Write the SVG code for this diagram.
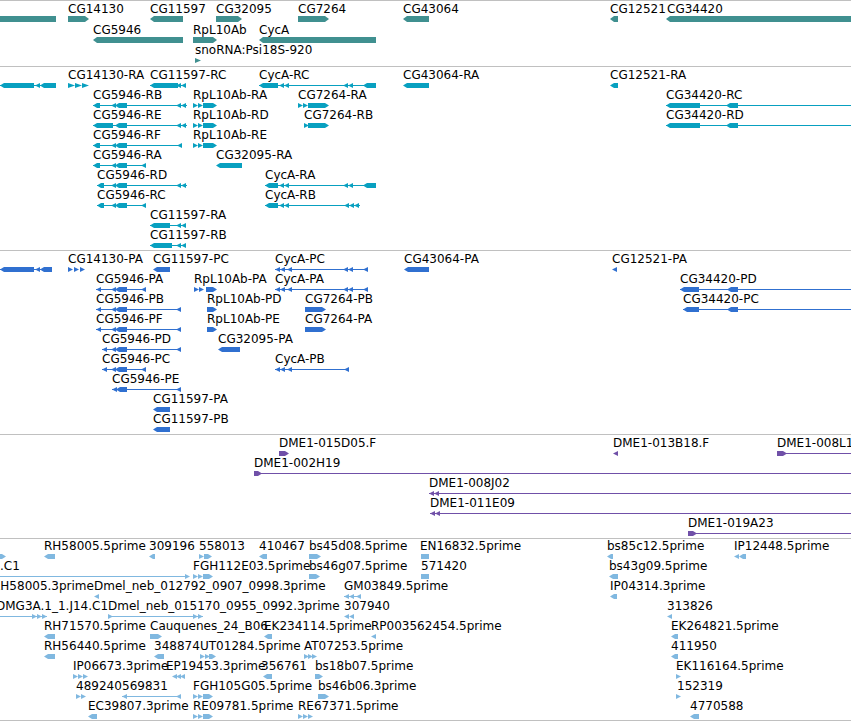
<svg xmlns="http://www.w3.org/2000/svg" xmlns:xlink="http://www.w3.org/1999/xlink" width="851" height="722" viewBox="0 0 851 722">
<style>
text{font-family:"DejaVu Sans",sans-serif;font-size:12px;fill:#000}
path,use{fill:currentColor}
.ln{fill:none;stroke:currentColor;stroke-width:1}
.sep{stroke:#c0c0c0;stroke-width:1;fill:none}
.g{color:#409090}
.t{color:#08a0c0}
.p{color:#3070d0}
.b{color:#7050a8}
.e{color:#80b8e0}
</style>
<defs>
<path id="L" d="M0,6.5L5,4V9Z"/>
<path id="R" d="M0,4L5,6.5L0,9Z"/>
</defs>
<rect width="851" height="722" fill="#fff"/>
<g id="separators">
<path class="sep" d="M0,0.5H851M0,66.5H851M0,250.5H851M0,434.5H851M0,538.5H851M0,720.5H851"/>
</g>
<g id="connectors"></g>

<g id="genes" class="g">
<g id="g_left" transform="translate(0,13)"><path d="M0,3H56V9H0Z"/></g>
<g id="g_CG14130" transform="translate(0,13)"><text x="68" y="0">CG14130</text><path d="M68,3H85L89,6L85,9H68Z"/></g>
<g id="g_CG11597" transform="translate(0,13)"><text x="150" y="0">CG11597</text><path d="M150,6L154,3H183V9H154Z"/></g>
<g id="g_CG32095" transform="translate(0,13)"><text x="216" y="0">CG32095</text><path d="M216,3H238L242,6L238,9H216Z"/></g>
<g id="g_CG7264" transform="translate(0,13)"><text x="298" y="0">CG7264</text><path d="M298,3H325L329,6L325,9H298Z"/></g>
<g id="g_CG43064" transform="translate(0,13)"><text x="403" y="0">CG43064</text><path d="M403,6L407,3H429V9H407Z"/></g>
<g id="g_CG12521" transform="translate(0,13)"><text x="610" y="0">CG12521</text><path d="M610,6L614,3H618V9H614Z"/></g>
<g id="g_CG34420" transform="translate(0,13)"><text x="667" y="0">CG34420</text><path d="M666,6L670,3H852V9H670Z"/></g>
<g id="g_CG5946" transform="translate(0,34)"><text x="93" y="0">CG5946</text><path d="M93,6L97,3H183V9H97Z"/></g>
<g id="g_RpL10Ab" transform="translate(0,34)"><text x="193" y="0">RpL10Ab</text><path d="M193,3H213L217,6L213,9H193Z"/></g>
<g id="g_CycA" transform="translate(0,34)"><text x="259" y="0">CycA</text><path d="M259,6L263,3H376V9H263Z"/></g>
<g id="g_snoRNA" transform="translate(0,54)"><text x="195" y="0">snoRNA:Psi18S-920</text><path d="M195,4L201,6.5L195,9Z"/></g>
</g>

<g id="transcripts" class="t">
<g id="t_left" transform="translate(0,79)"><path class="ln" d="M0,6.5H56"/><path d="M0,6.5L4,4H34V9H4Z"/><use href="#L" x="35"/><path d="M40,6.5L44,4H56V9H44Z"/></g>
<g id="t_CG14130-RA" transform="translate(0,79)"><text x="68" y="0">CG14130-RA</text><path d="M68,4L75,6.5L68,9ZM75,4L82,6.5L75,9ZM82,4L89,6.5L82,9Z"/></g>
<g id="t_CG11597-RC" transform="translate(0,79)"><text x="150" y="0">CG11597-RC</text><path class="ln" d="M150,6.5H186"/><path d="M150,6.5L154,4H178V9H154Z"/><use href="#L" x="176"/><use href="#L" x="181"/></g>
<g id="t_CycA-RC" transform="translate(0,79)"><text x="259" y="0">CycA-RC</text><path class="ln" d="M259,6.5H376"/><path d="M259,6.5L263,4H278V9H263Z"/><use href="#L" x="279"/><use href="#L" x="284"/><use href="#L" x="343"/><use href="#L" x="348"/><path d="M363,6.5L367,4H376V9H367Z"/></g>
<g id="t_CG43064-RA" transform="translate(0,79)"><text x="403" y="0">CG43064-RA</text><path d="M403,6.5L407,4H429V9H407Z"/></g>
<g id="t_CG12521-RA" transform="translate(0,79)"><text x="610" y="0">CG12521-RA</text><path d="M610,6.5L614,4H618V9H614Z"/></g>

<g id="t_CG5946-RB" transform="translate(0,99)"><text x="93" y="0">CG5946-RB</text><path class="ln" d="M93,6.5H187"/><path d="M93,6.5L97,4H100V9H97Z"/><use href="#L" x="111"/><path d="M115,6.5L119,4H127V9H119Z"/><use href="#L" x="176"/><use href="#L" x="181"/></g>
<g id="t_RpL10Ab-RA" transform="translate(0,99)"><text x="193" y="0">RpL10Ab-RA</text><use href="#R" x="193"/><use href="#R" x="198"/><path d="M203,4H213L217,6.5L213,9H203Z"/></g>
<g id="t_CG7264-RA" transform="translate(0,99)"><text x="298" y="0">CG7264-RA</text><use href="#R" x="298"/><use href="#R" x="303"/><path d="M308,4H325L329,6.5L325,9H308Z"/></g>
<g id="t_CG34420-RC" transform="translate(0,99)"><text x="666" y="0">CG34420-RC</text><path class="ln" d="M666,6.5H852"/><path d="M666,6.5L670,4H700V9H670Z"/><path d="M726,6.5L730,4H738V9H730Z"/></g>

<g id="t_CG5946-RE" transform="translate(0,119)"><text x="93" y="0">CG5946-RE</text><path class="ln" d="M93,6.5H187"/><path d="M93,6.5L97,4H113V9H97Z"/><path d="M115,6.5L119,4H127V9H119Z"/><use href="#L" x="176"/><use href="#L" x="181"/></g>
<g id="t_RpL10Ab-RD" transform="translate(0,119)"><text x="193" y="0">RpL10Ab-RD</text><use href="#R" x="193"/><use href="#R" x="198"/><path d="M203,4H213L217,6.5L213,9H203Z"/></g>
<g id="t_CG7264-RB" transform="translate(0,119)"><text x="304" y="0">CG7264-RB</text><use href="#R" x="304"/><path d="M308,4H325L329,6.5L325,9H308Z"/></g>
<g id="t_CG34420-RD" transform="translate(0,119)"><text x="666" y="0">CG34420-RD</text><path class="ln" d="M666,6.5H852"/><path d="M666,6.5L670,4H700V9H670Z"/><path d="M726,6.5L730,4H738V9H730Z"/></g>

<g id="t_CG5946-RF" transform="translate(0,139)"><text x="93" y="0">CG5946-RF</text><path class="ln" d="M93,6.5H182"/><path d="M93,6.5L97,4H100V9H97Z"/><use href="#L" x="111"/><path d="M115,6.5L119,4H127V9H119Z"/><use href="#L" x="177"/></g>
<g id="t_RpL10Ab-RE" transform="translate(0,139)"><text x="193" y="0">RpL10Ab-RE</text><use href="#R" x="193"/><use href="#R" x="198"/><path d="M203,4H213L217,6.5L213,9H203Z"/></g>

<g id="t_CG5946-RA" transform="translate(0,159)"><text x="93" y="0">CG5946-RA</text><path class="ln" d="M93,6.5H146"/><path d="M93,6.5L97,4H100V9H97Z"/><use href="#L" x="111"/><path d="M115,6.5L119,4H127V9H119Z"/><use href="#L" x="141"/></g>
<g id="t_CG32095-RA" transform="translate(0,159)"><text x="216" y="0">CG32095-RA</text><path d="M216,6.5L220,4H242V9H220Z"/></g>

<g id="t_CG5946-RD" transform="translate(0,179)"><text x="97" y="0">CG5946-RD</text><path class="ln" d="M97,6.5H187"/><path d="M97,6.5L101,4H104V9H101Z"/><use href="#L" x="111"/><path d="M115,6.5L119,4H127V9H119Z"/><use href="#L" x="176"/><use href="#L" x="181"/></g>
<g id="t_CycA-RA" transform="translate(0,179)"><text x="265" y="0">CycA-RA</text><path class="ln" d="M265,6.5H376"/><path d="M265,6.5L269,4H278V9H269Z"/><use href="#L" x="279"/><use href="#L" x="284"/><use href="#L" x="343"/><use href="#L" x="348"/><path d="M363,6.5L367,4H376V9H367Z"/></g>

<g id="t_CG5946-RC" transform="translate(0,199)"><text x="97" y="0">CG5946-RC</text><path class="ln" d="M97,6.5H146"/><path d="M97,6.5L101,4H104V9H101Z"/><use href="#L" x="111"/><path d="M115,6.5L119,4H127V9H119Z"/><use href="#L" x="141"/></g>
<g id="t_CycA-RB" transform="translate(0,199)"><text x="265" y="0">CycA-RB</text><path class="ln" d="M265,6.5H360"/><path d="M265,6.5L269,4H278V9H269Z"/><use href="#L" x="279"/><use href="#L" x="284"/><use href="#L" x="344"/><use href="#L" x="349"/><use href="#L" x="354"/></g>

<g id="t_CG11597-RA" transform="translate(0,219)"><text x="150" y="0">CG11597-RA</text><path class="ln" d="M150,6.5H186"/><path d="M150,6.5L154,4H170V9H154Z"/><use href="#L" x="176"/><use href="#L" x="181"/></g>
<g id="t_CG11597-RB" transform="translate(0,239)"><text x="150" y="0">CG11597-RB</text><path class="ln" d="M150,6.5H186"/><path d="M150,6.5L154,4H172V9H154Z"/><use href="#L" x="176"/><use href="#L" x="181"/></g>
</g>

<g id="proteins" class="p">
<g id="p_left" transform="translate(0,263)"><path class="ln" d="M0,6.5H52"/><path d="M0,6.5L4,4H34V9H4Z"/><use href="#L" x="35"/><path d="M40,6.5L44,4H52V9H44Z"/></g>
<g id="p_CG14130-PA" transform="translate(0,263)"><text x="68" y="0">CG14130-PA</text><use href="#R" x="68"/><use href="#R" x="74"/><use href="#R" x="80"/></g>
<g id="p_CG11597-PC" transform="translate(0,263)"><text x="153" y="0">CG11597-PC</text><path d="M153,6.5L157,4H170V9H157Z"/></g>
<g id="p_CycA-PC" transform="translate(0,263)"><text x="275" y="0">CycA-PC</text><path class="ln" d="M275,6.5H368"/><use href="#L" x="275"/><use href="#L" x="280"/><use href="#L" x="287"/><use href="#L" x="343"/><use href="#L" x="348"/><use href="#L" x="363"/></g>
<g id="p_CG43064-PA" transform="translate(0,263)"><text x="404" y="0">CG43064-PA</text><path d="M404,6.5L408,4H429V9H408Z"/></g>
<g id="p_CG12521-PA" transform="translate(0,263)"><text x="612" y="0">CG12521-PA</text><use href="#L" x="612"/></g>

<g id="p_CG5946-PA" transform="translate(0,283)"><text x="96" y="0">CG5946-PA</text><path class="ln" d="M96,6.5H146"/><use href="#L" x="96"/><use href="#L" x="111"/><path d="M115,6.5L119,4H127V9H119Z"/><use href="#L" x="141"/></g>
<g id="p_RpL10Ab-PA" transform="translate(0,283)"><text x="194" y="0">RpL10Ab-PA</text><use href="#R" x="194"/><use href="#R" x="199"/><path d="M206,4H213L217,6.5L213,9H206Z"/></g>
<g id="p_CycA-PA" transform="translate(0,283)"><text x="275" y="0">CycA-PA</text><path class="ln" d="M275,6.5H368"/><use href="#L" x="275"/><use href="#L" x="280"/><use href="#L" x="287"/><use href="#L" x="343"/><use href="#L" x="348"/><use href="#L" x="363"/></g>
<g id="p_CG34420-PD" transform="translate(0,283)"><text x="680" y="0">CG34420-PD</text><path class="ln" d="M680,6.5H852"/><path d="M680,6.5L684,4H699V9H684Z"/><path d="M727,6.5L731,4H738V9H731Z"/></g>

<g id="p_CG5946-PB" transform="translate(0,303)"><text x="96" y="0">CG5946-PB</text><path class="ln" d="M96,6.5H181"/><use href="#L" x="96"/><use href="#L" x="111"/><path d="M115,6.5L119,4H127V9H119Z"/><use href="#L" x="176"/></g>
<g id="p_RpL10Ab-PD" transform="translate(0,303)"><text x="207" y="0">RpL10Ab-PD</text><path d="M207,4H213L217,6.5L213,9H207Z"/></g>
<g id="p_CG7264-PB" transform="translate(0,303)"><text x="305" y="0">CG7264-PB</text><path d="M305,4H322L326,6.5L322,9H305Z"/></g>
<g id="p_CG34420-PC" transform="translate(0,303)"><text x="683" y="0">CG34420-PC</text><path class="ln" d="M683,6.5H852"/><path d="M683,6.5L687,4H699V9H687Z"/><path d="M727,6.5L731,4H738V9H731Z"/></g>

<g id="p_CG5946-PF" transform="translate(0,323)"><text x="96" y="0">CG5946-PF</text><path class="ln" d="M96,6.5H181"/><use href="#L" x="96"/><use href="#L" x="111"/><path d="M115,6.5L119,4H127V9H119Z"/><use href="#L" x="176"/></g>
<g id="p_RpL10Ab-PE" transform="translate(0,323)"><text x="207" y="0">RpL10Ab-PE</text><path d="M207,4H213L217,6.5L213,9H207Z"/></g>
<g id="p_CG7264-PA" transform="translate(0,323)"><text x="305" y="0">CG7264-PA</text><path d="M305,4H322L326,6.5L322,9H305Z"/></g>

<g id="p_CG5946-PD" transform="translate(0,343)"><text x="102" y="0">CG5946-PD</text><path class="ln" d="M102,6.5H181"/><use href="#L" x="102"/><use href="#L" x="111"/><path d="M115,6.5L119,4H127V9H119Z"/><use href="#L" x="176"/></g>
<g id="p_CG32095-PA" transform="translate(0,343)"><text x="218" y="0">CG32095-PA</text><path d="M218,6.5L222,4H240V9H222Z"/></g>

<g id="p_CG5946-PC" transform="translate(0,363)"><text x="102" y="0">CG5946-PC</text><path class="ln" d="M102,6.5H146"/><use href="#L" x="102"/><use href="#L" x="111"/><path d="M115,6.5L119,4H127V9H119Z"/><use href="#L" x="141"/></g>
<g id="p_CycA-PB" transform="translate(0,363)"><text x="275" y="0">CycA-PB</text><path class="ln" d="M275,6.5H349"/><use href="#L" x="275"/><use href="#L" x="280"/><use href="#L" x="287"/><use href="#L" x="344"/></g>

<g id="p_CG5946-PE" transform="translate(0,383)"><text x="112" y="0">CG5946-PE</text><path class="ln" d="M112,6.5H181"/><use href="#L" x="112"/><path d="M116,6.5L120,4H127V9H120Z"/><use href="#L" x="176"/></g>
<g id="p_CG11597-PA" transform="translate(0,403)"><text x="153" y="0">CG11597-PA</text><path d="M153,6.5L157,4H170V9H157Z"/></g>
<g id="p_CG11597-PB" transform="translate(0,423)"><text x="153" y="0">CG11597-PB</text><path d="M153,6.5L157,4H170V9H157Z"/></g>
</g>

<g id="bacs" class="b">
<g id="b_015D05F" transform="translate(0,447)"><text x="279" y="0">DME1-015D05.F</text><path d="M279,4H285L289,6.5L285,9H279Z"/></g>
<g id="b_013B18F" transform="translate(0,447)"><text x="613" y="0">DME1-013B18.F</text><use href="#L" x="613"/></g>
<g id="b_008L1" transform="translate(0,447)"><text x="777" y="0">DME1-008L1</text><path class="ln" d="M777,6.5H852"/><path d="M777,4H783L787,6.5L783,9H777Z"/></g>
<g id="b_002H19" transform="translate(0,467)"><text x="254" y="0">DME1-002H19</text><path class="ln" d="M254,6.5H852"/><path d="M254,4H258L262,6.5L258,9H254Z"/></g>
<g id="b_008J02" transform="translate(0,487)"><text x="429" y="0">DME1-008J02</text><path class="ln" d="M429,6.5H852"/><use href="#L" x="429"/><use href="#L" x="434"/></g>
<g id="b_011E09" transform="translate(0,507)"><text x="430" y="0">DME1-011E09</text><path class="ln" d="M430,6.5H852"/><use href="#L" x="430"/><use href="#L" x="435"/></g>
<g id="b_019A23" transform="translate(0,527)"><text x="688" y="0">DME1-019A23</text><path class="ln" d="M688,6.5H852"/><path d="M688,4H693L697,6.5L693,9H688Z"/></g>
</g>

<g id="ests" class="e">
<g id="e_left1" transform="translate(0,550)"><path d="M0,4H2L6,6.5L2,9H0Z"/></g>
<g id="e_RH58005_5" transform="translate(0,550)"><text x="44" y="0">RH58005.5prime</text><path d="M44,6.5L48,4H55V9H48Z"/></g>
<g id="e_309196" transform="translate(0,550)"><text x="149" y="0">309196</text><path d="M149,6.5L153,4H155V9H153Z"/></g>
<g id="e_558013" transform="translate(0,550)"><text x="199" y="0">558013</text><use href="#R" x="199"/><path d="M204,4H208L212,6.5L208,9H204Z"/></g>
<g id="e_410467" transform="translate(0,550)"><text x="259" y="0">410467</text><path d="M259,6.5L263,4H267V9H263Z"/></g>
<g id="e_bs45d08" transform="translate(0,550)"><text x="309" y="0">bs45d08.5prime</text><path d="M309,4H317L321,6.5L317,9H309Z"/></g>
<g id="e_EN16832" transform="translate(0,550)"><text x="420" y="0">EN16832.5prime</text><path d="M421,4H429V9H421Z"/></g>
<g id="e_bs85c12" transform="translate(0,550)"><text x="607" y="0">bs85c12.5prime</text><path d="M607,6.5L611,4H613V9H611Z"/></g>
<g id="e_IP12448" transform="translate(0,550)"><text x="734" y="0">IP12448.5prime</text><use href="#L" x="734"/><path d="M739,6.5L743,4H746V9H743Z"/></g>

<g id="e_C1" transform="translate(0,570)"><text x="0" y="0">.C1</text><path class="ln" d="M0,6.5H188"/><use href="#R" x="185"/></g>
<g id="e_FGH112E03" transform="translate(0,570)"><text x="193" y="0">FGH112E03.5prime</text><use href="#R" x="193"/><use href="#R" x="198"/><path d="M203,4H209L213,6.5L209,9H203Z"/></g>
<g id="e_bs46g07" transform="translate(0,570)"><text x="309" y="0">bs46g07.5prime</text><path d="M309,4H316L320,6.5L316,9H309Z"/></g>
<g id="e_571420" transform="translate(0,570)"><text x="421" y="0">571420</text><path d="M421,4H429V9H421Z"/></g>
<g id="e_bs43g09" transform="translate(0,570)"><text x="609" y="0">bs43g09.5prime</text><path d="M609,6.5L613,4H618V9H613Z"/></g>

<g id="e_RH58005_3" transform="translate(0,590)"><text x="-8" y="0">RH58005.3prime</text></g>
<g id="e_neb012792" transform="translate(0,590)"><text x="94" y="0">Dmel_neb_012792_0907_0998.3prime</text><use href="#L" x="94"/></g>
<g id="e_GM03849" transform="translate(0,590)"><text x="344" y="0">GM03849.5prime</text><path class="ln" d="M344,6.5H361"/><use href="#L" x="344"/><use href="#L" x="349"/><use href="#L" x="356"/></g>
<g id="e_IP04314" transform="translate(0,590)"><text x="610" y="0">IP04314.3prime</text><path d="M610,6.5L614,4H617V9H614Z"/></g>

<g id="e_DMG3A" transform="translate(0,610)"><text x="-4" y="0">DMG3A.1_1.J14.C1</text><path class="ln" d="M0,6.5H47"/><use href="#R" x="32"/><use href="#R" x="37"/><use href="#R" x="42"/></g>
<g id="e_neb015170" transform="translate(0,610)"><text x="108" y="0">Dmel_neb_015170_0955_0992.3prime</text><path class="ln" d="M108,6.5H203"/><use href="#R" x="108"/><use href="#R" x="193"/><use href="#R" x="198"/></g>
<g id="e_307940" transform="translate(0,610)"><text x="344" y="0">307940</text><use href="#L" x="344"/><use href="#L" x="349"/></g>
<g id="e_313826" transform="translate(0,610)"><text x="667" y="0">313826</text><use href="#L" x="667"/></g>

<g id="e_RH71570" transform="translate(0,630)"><text x="44" y="0">RH71570.5prime</text><path d="M44,6.5L48,4H55V9H48Z"/></g>
<g id="e_Cauquenes" transform="translate(0,630)"><text x="150" y="0">Cauquenes_24_B06</text><path d="M150,4H158L162,6.5L158,9H150Z"/></g>
<g id="e_EK234114" transform="translate(0,630)"><text x="264" y="0">EK234114.5prime</text><path d="M264,6.5L268,4H272V9H268Z"/></g>
<g id="e_RP003562454" transform="translate(0,630)"><text x="371" y="0">RP003562454.5prime</text><use href="#L" x="371"/></g>
<g id="e_EK264821" transform="translate(0,630)"><text x="671" y="0">EK264821.5prime</text><path d="M671,6.5L675,4H678V9H675Z"/></g>

<g id="e_RH56440" transform="translate(0,650)"><text x="44" y="0">RH56440.5prime</text><path d="M44,6.5L48,4H55V9H48Z"/></g>
<g id="e_348874" transform="translate(0,650)"><text x="154" y="0">348874</text><path d="M154,6.5L158,4H164V9H158Z"/></g>
<g id="e_UT01284" transform="translate(0,650)"><text x="200" y="0">UT01284.5prime</text><use href="#R" x="200"/><use href="#R" x="205"/><path d="M209,4H212L216,6.5L212,9H209Z"/></g>
<g id="e_AT07253" transform="translate(0,650)"><text x="304" y="0">AT07253.5prime</text><use href="#R" x="304"/><use href="#R" x="308"/><use href="#R" x="312"/></g>
<g id="e_411950" transform="translate(0,650)"><text x="671" y="0">411950</text><path d="M671,6.5L675,4H678V9H675Z"/></g>

<g id="e_IP06673" transform="translate(0,670)"><text x="73" y="0">IP06673.3prime</text><use href="#R" x="73"/><use href="#R" x="78"/><use href="#R" x="83"/></g>
<g id="e_EP19453" transform="translate(0,670)"><text x="166" y="0">EP19453.3prime</text><use href="#L" x="172"/><use href="#L" x="176"/><use href="#L" x="180"/></g>
<g id="e_356761" transform="translate(0,670)"><text x="261" y="0">356761</text><path d="M263,6.5L267,4H272V9H267Z"/></g>
<g id="e_bs18b07" transform="translate(0,670)"><text x="315" y="0">bs18b07.5prime</text><path d="M315,4H319L323,6.5L319,9H315Z"/></g>
<g id="e_EK116164" transform="translate(0,670)"><text x="676" y="0">EK116164.5prime</text><use href="#R" x="676"/></g>

<g id="e_489240" transform="translate(0,690)"><text x="76" y="0">489240</text><use href="#R" x="76"/><use href="#R" x="81"/></g>
<g id="e_569831" transform="translate(0,690)"><text x="122" y="0">569831</text><path class="ln" d="M122,6.5H181"/><use href="#L" x="122"/><use href="#L" x="176"/></g>
<g id="e_FGH105G05" transform="translate(0,690)"><text x="193" y="0">FGH105G05.5prime</text><use href="#R" x="193"/><use href="#R" x="198"/><path d="M203,4H209L213,6.5L209,9H203Z"/></g>
<g id="e_bs46b06" transform="translate(0,690)"><text x="318" y="0">bs46b06.3prime</text><path d="M318,4H325L329,6.5L325,9H318Z"/></g>
<g id="e_152319" transform="translate(0,690)"><text x="677" y="0">152319</text><use href="#R" x="676"/></g>

<g id="e_EC39807" transform="translate(0,710)"><text x="88" y="0">EC39807.3prime</text><path d="M88,6.5L92,4H97V9H92Z"/></g>
<g id="e_RE09781" transform="translate(0,710)"><text x="193" y="0">RE09781.5prime</text><use href="#R" x="193"/><use href="#R" x="198"/><path d="M203,4H209L213,6.5L209,9H203Z"/></g>
<g id="e_RE67371" transform="translate(0,710)"><text x="298" y="0">RE67371.5prime</text><use href="#R" x="298"/><use href="#R" x="303"/><use href="#R" x="308"/></g>
<g id="e_4770588" transform="translate(0,710)"><text x="690" y="0">4770588</text><path d="M690,6.5L694,4H699V9H694Z"/></g>
</g>
</svg>
